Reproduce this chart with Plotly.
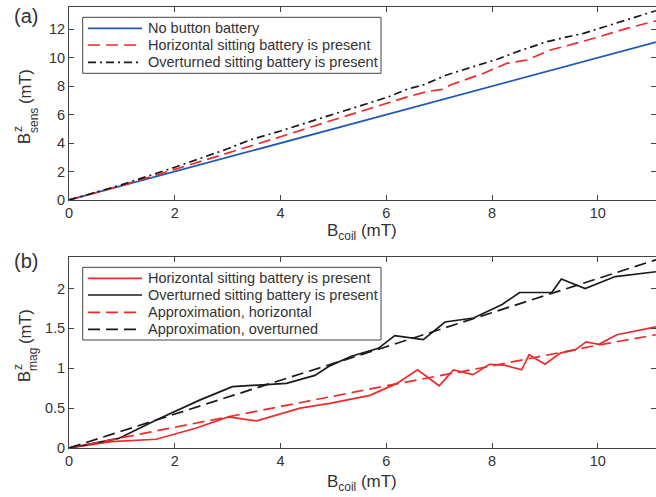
import plotly.graph_objects as go

# ---------------- data ----------------
# panel (a)
a_blue_x = [0, 11.1]
a_blue_y = [0, 11.1]
a_red_x = [0, 0.5, 1.0, 2.0, 3.0, 3.42, 4.0, 4.93, 5.5, 6.0, 6.4, 6.77, 7.05, 7.21, 7.84, 8.28, 8.66, 9.10, 9.35, 10.0, 10.55, 11.1]
a_red_y = [0, 0.5, 1.03, 2.15, 3.3, 3.75, 4.45, 5.55, 6.2, 6.8, 7.25, 7.62, 7.78, 8.09, 8.91, 9.61, 9.84, 10.55, 10.78, 11.45, 12.07, 12.6]
a_blk_x = [0, 0.5, 1.0, 2.0, 3.0, 3.42, 4.0, 4.93, 5.5, 6.0, 6.4, 6.7, 7.14, 7.65, 8.1, 8.53, 9.04, 9.4, 9.73, 10.3, 11.1]
a_blk_y = [0, 0.52, 1.08, 2.3, 3.6, 4.22, 4.85, 5.95, 6.6, 7.2, 7.8, 8.09, 8.79, 9.37, 9.9, 10.5, 11.13, 11.45, 11.72, 12.38, 13.31]
a_names = ["No button battery", "Horizontal sitting battery is present", "Overturned sitting battery is present"]

# panel (b)
b_h_x = [0, 0.8, 1.65, 2.41, 3.01, 3.55, 4.37, 4.93, 5.69, 6.20, 6.59, 7.0, 7.27, 7.64, 7.95, 8.23, 8.56, 8.70, 9.0, 9.29, 9.57, 9.78, 10.02, 10.36, 11.1]
b_h_y = [0, 0.08, 0.11, 0.25, 0.39, 0.34, 0.5, 0.56, 0.66, 0.81, 0.98, 0.78, 0.98, 0.92, 1.05, 1.04, 0.98, 1.17, 1.05, 1.19, 1.23, 1.33, 1.30, 1.42, 1.52]
b_o_x = [0, 0.94, 1.65, 2.47, 3.09, 3.73, 4.11, 4.65, 4.93, 5.34, 5.85, 6.16, 6.70, 7.11, 7.65, 8.19, 8.52, 9.13, 9.31, 9.76, 10.33, 11.1]
b_o_y = [0, 0.12, 0.35, 0.60, 0.77, 0.79, 0.81, 0.91, 1.03, 1.15, 1.25, 1.41, 1.36, 1.58, 1.63, 1.80, 1.95, 1.95, 2.12, 2.00, 2.15, 2.21]
b_apx_x = [0, 2, 4, 6, 8, 10, 11.1]
b_apx_h = [0, 0.26, 0.52, 0.78, 1.03, 1.29, 1.42]
b_apx_o = [0, 0.43, 0.85, 1.27, 1.70, 2.13, 2.36]
b_names = ["Horizontal sitting battery is present", "Overturned sitting battery is present",
           "Approximation, horizontal", "Approximation, overturned"]

x_ticks = [0, 2, 4, 6, 8, 10]
a_yticks = [0, 2, 4, 6, 8, 10, 12]
b_yticks = [0, 0.5, 1, 1.5, 2]

# ---------------- style ----------------
W, H = 656, 497
ML, MR, MT, MB = 69, 0, 7, 49
PW = W - ML - MR
PH = H - MT - MB
BLUE = "#2159b8"
RED = "#ee2a2a"
BLACK = "#1a1a1a"
TXT = "#333333"
AX = "#444444"
FONT = "Liberation Sans, Arial, sans-serif"
DASH = "12px,6px"
DASHDOT = "8px,4px,2px,4px"
LW = 1.7


def px(xp):
    return (xp - ML) / PW


def py(yp):
    return (H - MB - yp) / PH


fig = go.Figure()
# panel (a)
a_styles = [(BLUE, "solid"), (RED, DASH), (BLACK, DASHDOT)]
for (xs, ys), (c, d), n in zip([(a_blue_x, a_blue_y), (a_red_x, a_red_y), (a_blk_x, a_blk_y)], a_styles, a_names):
    fig.add_trace(go.Scatter(x=xs, y=ys, mode="lines", name=n, line=dict(color=c, dash=d, width=LW),
                             xaxis="x", yaxis="y", showlegend=False, hoverinfo="skip"))
# panel (b)
b_styles = [(RED, "solid"), (BLACK, "solid"), (RED, DASH), (BLACK, DASH)]
b_data = [(b_h_x, b_h_y), (b_o_x, b_o_y), (b_apx_x, b_apx_h), (b_apx_x, b_apx_o)]
for (xs, ys), (c, d), n in zip(b_data, b_styles, b_names):
    fig.add_trace(go.Scatter(x=xs, y=ys, mode="lines", name=n, line=dict(color=c, dash=d, width=LW),
                             xaxis="x2", yaxis="y2", showlegend=False, hoverinfo="skip"))

axis_common = dict(showline=True, mirror="ticks", linecolor=AX, linewidth=1, ticks="inside",
                   ticklen=5, tickcolor=AX, showgrid=False, zeroline=False,
                   tickfont=dict(family=FONT, size=14.5, color=TXT))

dom_a = [py(200), 1]
dom_b = [0, py(257)]
fig.update_layout(
    width=W, height=H, margin=dict(l=ML, r=MR, t=MT, b=MB),
    paper_bgcolor="white", plot_bgcolor="white", showlegend=False,
    xaxis=dict(domain=[0, 1], anchor="y", range=[0, 11.1], tickvals=x_ticks, **axis_common),
    yaxis=dict(domain=dom_a, anchor="x", range=[0, 13.57], tickvals=a_yticks, **axis_common),
    xaxis2=dict(domain=[0, 1], anchor="y2", range=[0, 2.395 * 0 + 11.1], tickvals=x_ticks, **axis_common),
    yaxis2=dict(domain=dom_b, anchor="x2", range=[0, 2.395], tickvals=b_yticks,
                ticktext=["0", "0.5", "1", "1.5", "2"], **axis_common),
)

ann = []
shapes = []


def text(t, xp, yp, size, xanchor="center", yanchor="middle", angle=0):
    ann.append(dict(text=t, x=px(xp), y=py(yp), xref="paper", yref="paper", showarrow=False,
                    xanchor=xanchor, yanchor=yanchor, textangle=angle,
                    font=dict(family=FONT, size=size, color=TXT)))


# panel labels
text("(a)", 26, 16, 20)
text("(b)", 26, 261, 20)
# x titles
text("B<sub>coil</sub> (mT)", 362, 232, 17)
text("B<sub>coil</sub> (mT)", 362, 483, 17)
# y title (a)
text("B", 24, 139, 16.5, angle=-90)
text("z", 18, 129, 12, angle=-90)
text("sens", 33.5, 120.5, 12, angle=-90)
text("(mT)", 25, 87, 16.5, angle=-90)
# y title (b)
text("B", 24, 377, 16.5, angle=-90)
text("z", 18, 367, 12, angle=-90)
text("mag", 32.5, 359.5, 12, angle=-90)
text("(mT)", 25, 327, 16.5, angle=-90)


# legends
def legend(box, rows, names, styles):
    x0, y0, x1, y1 = box
    shapes.append(dict(type="rect", xref="paper", yref="paper", x0=px(x0), x1=px(x1), y0=py(y0), y1=py(y1),
                       line=dict(color=AX, width=1), fillcolor="white", layer="above"))
    for r, n, (c, d) in zip(rows, names, styles):
        shapes.append(dict(type="line", xref="paper", yref="paper", x0=px(88), x1=px(142), y0=py(r), y1=py(r),
                           line=dict(color=c, dash=d, width=LW), layer="above"))
        text(n, 145.5, r, 14.5, xanchor="left")


legend((82.7, 17.3, 381, 73.3), [28.3, 45, 62.3], a_names, a_styles)
legend((82.7, 267.3, 381, 340), [278.3, 295, 312.3, 329.3], b_names, b_styles)

fig.update_layout(annotations=ann, shapes=shapes)
fig.write_html("out.html", config={"displayModeBar": False},
               post_script="document.body.style.margin='0';document.body.style.padding='0';")
